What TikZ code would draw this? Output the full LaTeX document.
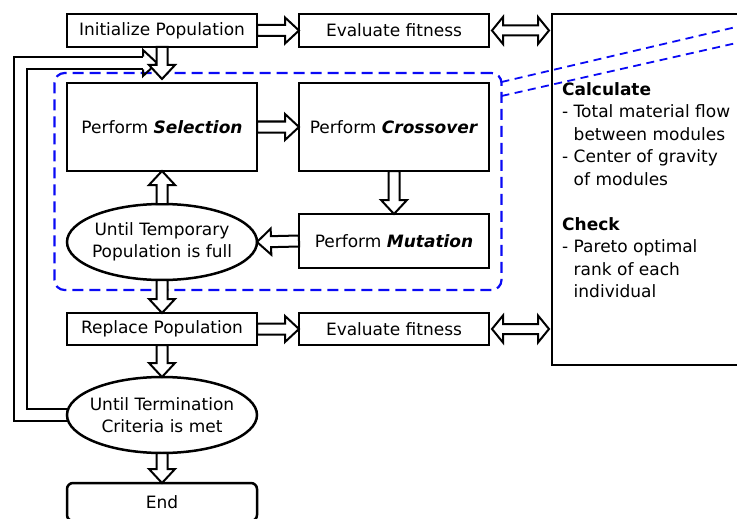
\documentclass[tikz,border=0pt]{standalone}
\usepackage{fontspec}
\setmainfont{DejaVu Sans}
\usepackage{tikz}
\usetikzlibrary{shapes.geometric,positioning,calc,fit,backgrounds}
\definecolor{frameblue}{RGB}{10,10,245}

\begin{document}
\begin{tikzpicture}[
    x=1pt, y=-1pt,
    font=\fontsize{17pt}{22.5pt}\selectfont,
    stepbox/.style={
      rectangle,
      draw=black,
      line width=2.5pt,
      fill=white,
      minimum width=190pt,
      minimum height=#1,
      inner sep=0pt,
      outer sep=0pt,
      align=center
    },
    stepbox/.default=33pt,
    untilbox/.style={
      ellipse,
      draw=black,
      line width=2.5pt,
      fill=white,
      minimum width=190pt,
      minimum height=76pt,
      inner xsep=-8pt,
      inner ysep=0pt,
      outer sep=0pt,
      align=center
    },
    panel/.style={rectangle, draw=black, line width=2.5pt, anchor=north west,
      outer sep=0pt, minimum width=260pt, minimum height=351pt},
    paneltext/.style={anchor=north west, inner sep=0pt, align=left},
    groupbox/.style={draw=frameblue, line width=2.2pt, dash pattern=on 11pt off 6pt,
      rounded corners=10pt, inner xsep=12.5pt, inner ysep=10pt, outer sep=0pt},
    zoomline/.style={draw=frameblue, line width=1.8pt, dash pattern=on 8pt off 5.5pt},
    blockarrow/.style={
      draw=black, fill=white, line width=2pt, line join=miter,
      to path={
        ($(\tikztostart)!5.5pt!90:(\tikztotarget)$)
        -- ($(\tikztotarget)!14pt!(\tikztostart)!5.5pt!-90:(\tikztostart)$)
        -- ($(\tikztotarget)!14pt!(\tikztostart)!13pt!-90:(\tikztostart)$)
        -- (\tikztotarget)
        -- ($(\tikztotarget)!14pt!(\tikztostart)!13pt!90:(\tikztostart)$)
        -- ($(\tikztotarget)!14pt!(\tikztostart)!5.5pt!90:(\tikztostart)$)
        -- ($(\tikztostart)!5.5pt!-90:(\tikztotarget)$)
        -- cycle
      }
    },
    bothways/.style={
      draw=black, fill=white, line width=2pt, line join=miter,
      to path={
        ($(\tikztostart)!11pt!(\tikztotarget)!5pt!90:(\tikztotarget)$)
        -- ($(\tikztotarget)!11pt!(\tikztostart)!5pt!-90:(\tikztostart)$)
        -- ($(\tikztotarget)!11pt!(\tikztostart)!13.5pt!-90:(\tikztostart)$)
        -- (\tikztotarget)
        -- ($(\tikztotarget)!11pt!(\tikztostart)!13.5pt!90:(\tikztostart)$)
        -- ($(\tikztotarget)!11pt!(\tikztostart)!5pt!90:(\tikztostart)$)
        -- ($(\tikztostart)!11pt!(\tikztotarget)!5pt!-90:(\tikztotarget)$)
        -- ($(\tikztostart)!11pt!(\tikztotarget)!13.5pt!-90:(\tikztotarget)$)
        -- (\tikztostart)
        -- ($(\tikztostart)!11pt!(\tikztotarget)!13.5pt!90:(\tikztotarget)$)
        -- cycle
      }
    },
    loopshaft/.style={draw=black, line width=2.2pt, double=white, double distance=10.5pt, line join=miter},
    loophead/.style={draw=black, line width=2pt, line join=miter}
  ]
    \useasboundingbox (0,0) rectangle (737,519);

    % left column
    \node[stepbox=88pt] (sel) at (162,127) {Perform \textbf{\textit{Selection}}};
    \node[stepbox, above=36pt of sel] (init) {Initialize Population};
    \node[untilbox, below=33pt of sel] (tmp) {Until Temporary\\Population is full};
    \node[stepbox=32pt, below=33pt of tmp] (repl) {Replace Population};
    \node[untilbox, below=32pt of repl] (term) {Until Termination\\Criteria is met};
    \node[stepbox=38pt, rounded corners=6pt, below=30pt of term] (endn) {End};

    % right column
    \node[stepbox, right=42pt of init] (eval1) {Evaluate fitness};
    \node[stepbox=88pt, right=42pt of sel] (cross) {Perform \textbf{\textit{Crossover}}};
    \node[stepbox=54pt, below=43pt of cross] (mut) {Perform \textbf{\textit{Mutation}}};
    \node[stepbox=32pt, right=42pt of repl] (eval2) {Evaluate fitness};

    \node[panel] (panel) at (552,14) {};
    \node[paneltext] (notes) at (562,82) {\textbf{Calculate}\\
      - Total material flow\\
      \phantom{- }between modules\\
      - Center of gravity\\
      \phantom{- }of modules\\[22.5pt]
      \textbf{Check}\\
      - Pareto optimal\\
      \phantom{- }rank of each\\
      \phantom{- }individual};

    \begin{scope}[on background layer]
      \node[groupbox, fit=(sel)(cross)(tmp)(mut)] (grp) {};
      \coordinate (looptip) at (157,63);
      \draw[loopshaft] (term.west) -| (20.5,63) -- ($(looptip)+(-14,0)$);
      \draw[loophead] ($(looptip)+(-14,-6.3)$) -- ($(looptip)+(-14,-13)$) -- (looptip)
        -- ($(looptip)+(-14,13)$) -- ($(looptip)+(-14,6.3)$);
    \end{scope}

    \coordinate (zoomA) at (760,21.4);
    \coordinate (zoomB) at (760,37.7);
    \draw[zoomline] ($(grp.north east)+(0,9)$) -- (zoomA);
    \draw[zoomline] ($(grp.north east)+(0,23)$) -- (zoomB);

    \draw[blockarrow] (init.east) to (eval1.west);
    \draw[blockarrow] (init.south) to ($(sel.north)+(0,-4)$);
    \draw[blockarrow] (sel.east) to (cross.west);
    \draw[blockarrow] (cross.south) to (mut.north);
    \draw[blockarrow] (mut.west) to (tmp.east);
    \draw[blockarrow] (tmp.north) to (sel.south);
    \draw[blockarrow] (tmp.south) to (repl.north);
    \draw[blockarrow] (repl.east) to (eval2.west);
    \draw[blockarrow] (repl.south) to (term.north);
    \draw[blockarrow] (term.south) to (endn.north);
    \draw[bothways] ($(eval1.east)+(3,0)$) to ($(eval1.east -| panel.west)+(-3,0)$);
    \draw[bothways] ($(eval2.east)+(3,0)$) to ($(eval2.east -| panel.west)+(-3,0)$);
  \end{tikzpicture}
\end{document}
